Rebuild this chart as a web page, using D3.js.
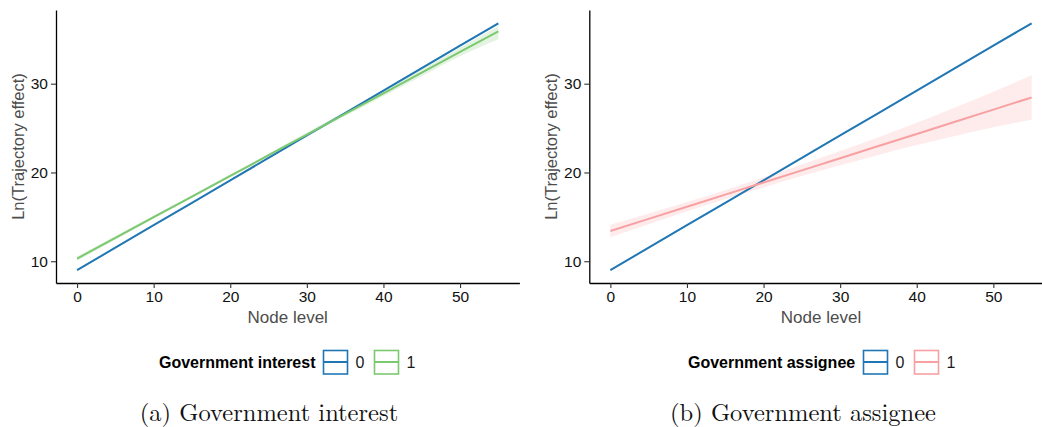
<!DOCTYPE html>
<html><head><meta charset="utf-8">
<script src="https://cdn.jsdelivr.net/npm/d3@7"></script>
<style>body{margin:0;background:#fff}svg{display:block}</style>
</head><body>
<script>
// ---- data ----
const xTicks = [0, 10, 20, 30, 40, 50];
const yTicks = [10, 20, 30];
const ribbonX = [0, 5, 10, 15, 20, 25, 30, 35, 40, 45, 50, 55];
// Panel (a) Government interest
const aLevels = ["0", "1"];
const aFit0 = [9.0, 11.53, 14.06, 16.58, 19.11, 21.64, 24.17, 26.69, 29.22, 31.75, 34.28, 36.8];
const aLo0  = [8.92, 11.46, 14.0, 16.53, 19.06, 21.59, 24.12, 26.63, 29.15, 31.66, 34.18, 36.68];
const aHi0  = [9.08, 11.6, 14.12, 16.63, 19.16, 21.69, 24.22, 26.75, 29.29, 31.84, 34.38, 36.92];
const aFit1 = [10.3, 12.63, 14.96, 17.28, 19.61, 21.94, 24.27, 26.59, 28.92, 31.25, 33.58, 35.9];
const aLo1  = [10.05, 12.42, 14.78, 17.12, 19.45, 21.76, 24.05, 26.32, 28.58, 30.83, 33.08, 35.0];
const aHi1  = [10.55, 12.84, 15.14, 17.44, 19.77, 22.12, 24.49, 26.86, 29.26, 31.67, 34.08, 36.5];
// Panel (b) Government assignee
const bLevels = ["0", "1"];
const bFit0 = [9.0, 11.53, 14.06, 16.58, 19.11, 21.64, 24.17, 26.69, 29.22, 31.75, 34.28, 36.8];
const bLo0  = [8.93, 11.47, 14.01, 16.54, 19.07, 21.6, 24.13, 26.64, 29.16, 31.68, 34.2, 36.7];
const bHi0  = [9.07, 11.59, 14.11, 16.62, 19.15, 21.68, 24.21, 26.74, 29.28, 31.82, 34.36, 36.9];
const bFit1 = [13.4, 14.77, 16.14, 17.5, 18.87, 20.24, 21.61, 22.98, 24.34, 25.71, 27.08, 28.45];
const bLo1  = [12.7, 14.17, 15.62, 17.0, 18.32, 19.59, 20.81, 21.98, 23.09, 24.11, 25.08, 25.95];
const bHi1  = [14.1, 15.37, 16.66, 18.0, 19.42, 20.89, 22.41, 23.98, 25.59, 27.31, 29.08, 30.95];

const colors = {blue: "#2077b4", green: "#7cc870", pink: "#f8a0a2"};
const SANS = "'Liberation Sans', Arial, sans-serif";

const W = 1042, H = 427;
const svg = d3.select("body").append("svg").attr("width", W).attr("height", H);

function panel(opt) {
  const x = d3.scaleLinear().domain([-2.75, 57.75]).range([opt.left, opt.left + 463.4]);
  const y = d3.scaleLinear().domain([7.55, 38.3]).range([283, 10]);
  const g = svg.append("g");
  const series = [
    {fit: opt.fit0, lo: opt.lo0, hi: opt.hi0, col: colors.blue},
    {fit: opt.fit1, lo: opt.lo1, hi: opt.hi1, col: opt.col1}
  ];
  const area = d3.area().curve(d3.curveMonotoneX).x((d, i) => x(ribbonX[i])).y0(d => y(d[0])).y1(d => y(d[1]));
  const line = d3.line().x((d, i) => x(ribbonX[i])).y(d => y(d));
  series.forEach(s => {
    g.append("path").datum(s.lo.map((v, i) => [v, s.hi[i]]))
      .attr("d", area).attr("fill", s.col).attr("fill-opacity", 0.2);
  });
  series.forEach(s => {
    g.append("path").datum(s.fit).attr("d", line)
      .attr("fill", "none").attr("stroke", s.col).attr("stroke-width", 2);
  });
  // axes
  const xa = g.append("g").attr("transform", "translate(0,283)")
    .call(d3.axisBottom(x).tickValues(xTicks).tickSize(5).tickSizeOuter(0).tickPadding(3));
  const ya = g.append("g").attr("transform", `translate(${opt.left},0)`)
    .call(d3.axisLeft(y).tickValues(yTicks).tickSize(5).tickSizeOuter(0).tickPadding(3));
  [xa, ya].forEach(a => {
    a.select(".domain").attr("stroke", "#000").attr("stroke-width", 1.3);
    a.selectAll(".tick line").attr("stroke", "#333").attr("stroke-width", 1.1);
    a.selectAll(".tick text").attr("fill", "#111")
      .style("font-family", SANS).style("font-size", "15.5px");
  });
  // titles
  g.append("text").attr("x", x(27.5)).attr("y", 323).attr("text-anchor", "middle")
    .attr("fill", "#4d4d4d").style("font-family", SANS)
    .style("font-size", "17px").text("Node level");
  g.append("text").attr("transform", `translate(${opt.left - 32},146.5) rotate(-90)`)
    .attr("text-anchor", "middle").attr("fill", "#4d4d4d")
    .style("font-family", SANS)
    .style("font-size", "16.5px").text("Ln(Trajectory effect)");
  // legend
  const lg = g.append("g");
  lg.append("text").attr("x", opt.legX).attr("y", 367.5).attr("font-weight", "bold")
    .attr("fill", "#000").style("font-family", SANS)
    .style("font-size", "16px").text(opt.legTitle);
  const keys = [{c: colors.blue, l: opt.levels[0]}, {c: opt.col1, l: opt.levels[1]}];
  keys.forEach((k, i) => {
    const kx = opt.keyX + i * 51;
    lg.append("rect").attr("x", kx).attr("y", 350.5).attr("width", 24).attr("height", 23.5)
      .attr("fill", "#fff").attr("stroke", k.c).attr("stroke-width", 1.6);
    lg.append("line").attr("x1", kx).attr("x2", kx + 24).attr("y1", 362).attr("y2", 362)
      .attr("stroke", k.c).attr("stroke-width", 2);
    lg.append("text").attr("x", kx + 32).attr("y", 368).attr("fill", "#1a1a1a")
      .style("font-family", SANS).style("font-size", "16px").text(k.l);
  });
  // caption
  g.append("text").attr("x", opt.capX).attr("y", 421).attr("text-anchor", "middle")
    .attr("fill", "#111").style("font-family", "'Latin Modern Roman', 'CMU Serif', 'DejaVu Serif', serif")
    .style("font-size", "24.5px").text(opt.caption);
}

panel({left: 56, fit0: aFit0, lo0: aLo0, hi0: aHi0, fit1: aFit1, lo1: aLo1, hi1: aHi1,
  col1: colors.green, levels: aLevels, legTitle: "Government interest", legX: 159, keyX: 323.5,
  caption: "(a) Government interest", capX: 269});
panel({left: 589.3, fit0: bFit0, lo0: bLo0, hi0: bHi0, fit1: bFit1, lo1: bLo1, hi1: bHi1,
  col1: colors.pink, levels: bLevels, legTitle: "Government assignee", legX: 688, keyX: 863.5,
  caption: "(b) Government assignee", capX: 803});
</script>
</body></html>
